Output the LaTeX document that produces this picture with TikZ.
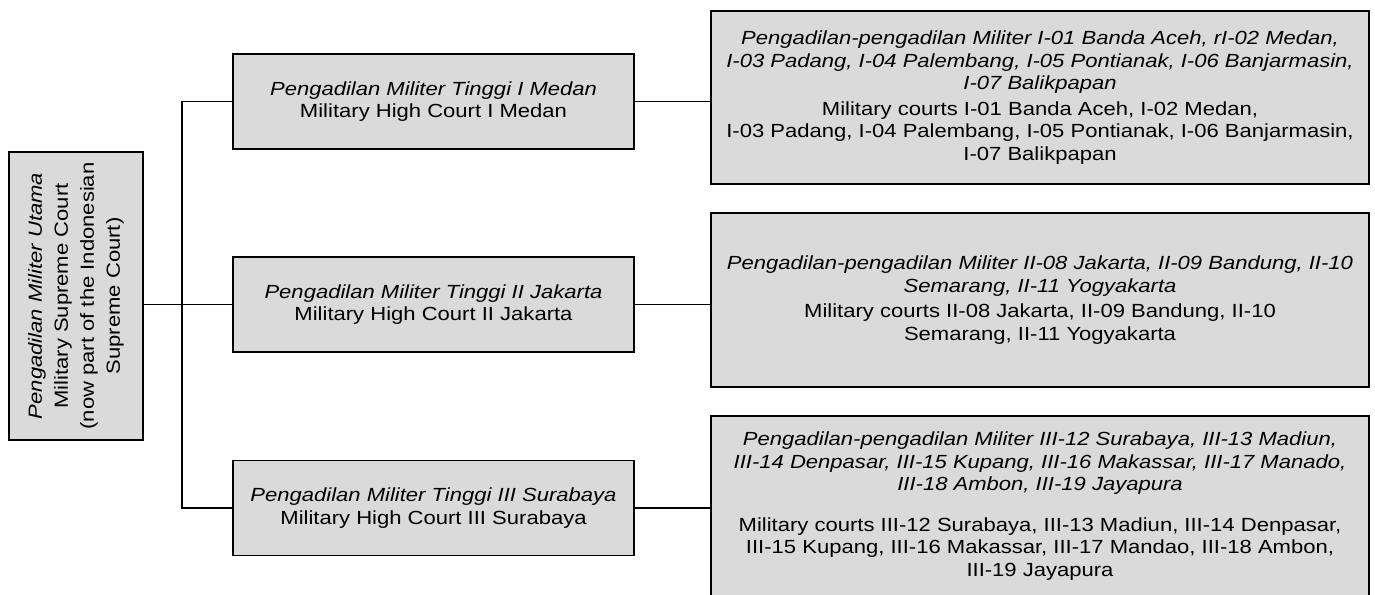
\documentclass[tikz,border=0pt]{standalone}
\usepackage{fontspec}
\setmainfont{Liberation Sans}[FakeStretch=1.16]
\definecolor{boxgray}{gray}{0.855}
\begin{document}
\begin{tikzpicture}[x=0.5pt,y=-0.5pt,
	court/.style={draw,fill=boxgray,line width=0.8pt,align=center,inner sep=0pt,
		font=\fontsize{9.5}{11.25}\selectfont},
	high/.style={court,minimum width=200.5pt,minimum height=47.5pt},
	lower/.style={court,minimum width=329pt},
	link/.style={line width=0.75pt}]
\useasboundingbox (0,0) rectangle (1375,594);
\clip (0,0) rectangle (1375,594);
\node[court,rotate=90,minimum width=144pt,minimum height=67pt,
	font=\fontsize{9.5}{13}\selectfont] (utama) at (76,296)
	{\textit{Pengadilan Militer Utama}\\Military Supreme Court\\(now part of the Indonesian\\Supreme Court)};
\node[high] (tinggi1) at (433.5,101.5) {\textit{Pengadilan Militer Tinggi I Medan}\\Military High Court I Medan};
\node[high] (tinggi2) at (433.5,304.5) {\textit{Pengadilan Militer Tinggi II Jakarta}\\Military High Court II Jakarta};
\node[high] (tinggi3) at (433.5,508) {\textit{Pengadilan Militer Tinggi III Surabaya}\\Military High Court III Surabaya};
\node[lower,minimum height=86.5pt] (militer1) at (1040,97.5)
	{\textit{Pengadilan-pengadilan Militer I-01 Banda Aceh, rI-02 Medan,}\\
	\textit{I-03 Padang, I-04 Palembang, I-05 Pontianak, I-06 Banjarmasin,}\\
	\textit{I-07 Balikpapan}\\[1.5pt]
	Military courts I-01 Banda Aceh, I-02 Medan,\\
	I-03 Padang, I-04 Palembang, I-05 Pontianak, I-06 Banjarmasin,\\
	I-07 Balikpapan};
\node[lower,minimum height=87pt] (militer2) at (1040,300)
	{\textit{Pengadilan-pengadilan Militer II-08 Jakarta, II-09 Bandung, II-10}\\
	\textit{Semarang, II-11 Yogyakarta}\\[1.5pt]
	Military courts II-08 Jakarta, II-09 Bandung, II-10\\
	Semarang, II-11 Yogyakarta};
\node[lower,minimum height=90pt] (militer3) at (1040,506)
	{\textit{Pengadilan-pengadilan Militer III-12 Surabaya, III-13 Madiun,}\\
	\textit{III-14 Denpasar, III-15 Kupang, III-16 Makassar, III-17 Manado,}\\
	\textit{III-18 Ambon, III-19 Jayapura}\\[9pt]
	Military courts III-12 Surabaya, III-13 Madiun, III-14 Denpasar,\\
	III-15 Kupang, III-16 Makassar, III-17 Mandao, III-18 Ambon,\\
	III-19 Jayapura};
\coordinate (trunk) at (182,0);
\draw[link] (utama.south |- tinggi2.west) -- (tinggi2.west);
\draw[link] (tinggi1.west) -- (tinggi1.west -| trunk) -- (tinggi3.west -| trunk) -- (tinggi3.west);
\foreach \i in {1,2,3}
	\draw[link] (tinggi\i.east) -- (tinggi\i.east -| militer\i.west);
\end{tikzpicture}
\end{document}
